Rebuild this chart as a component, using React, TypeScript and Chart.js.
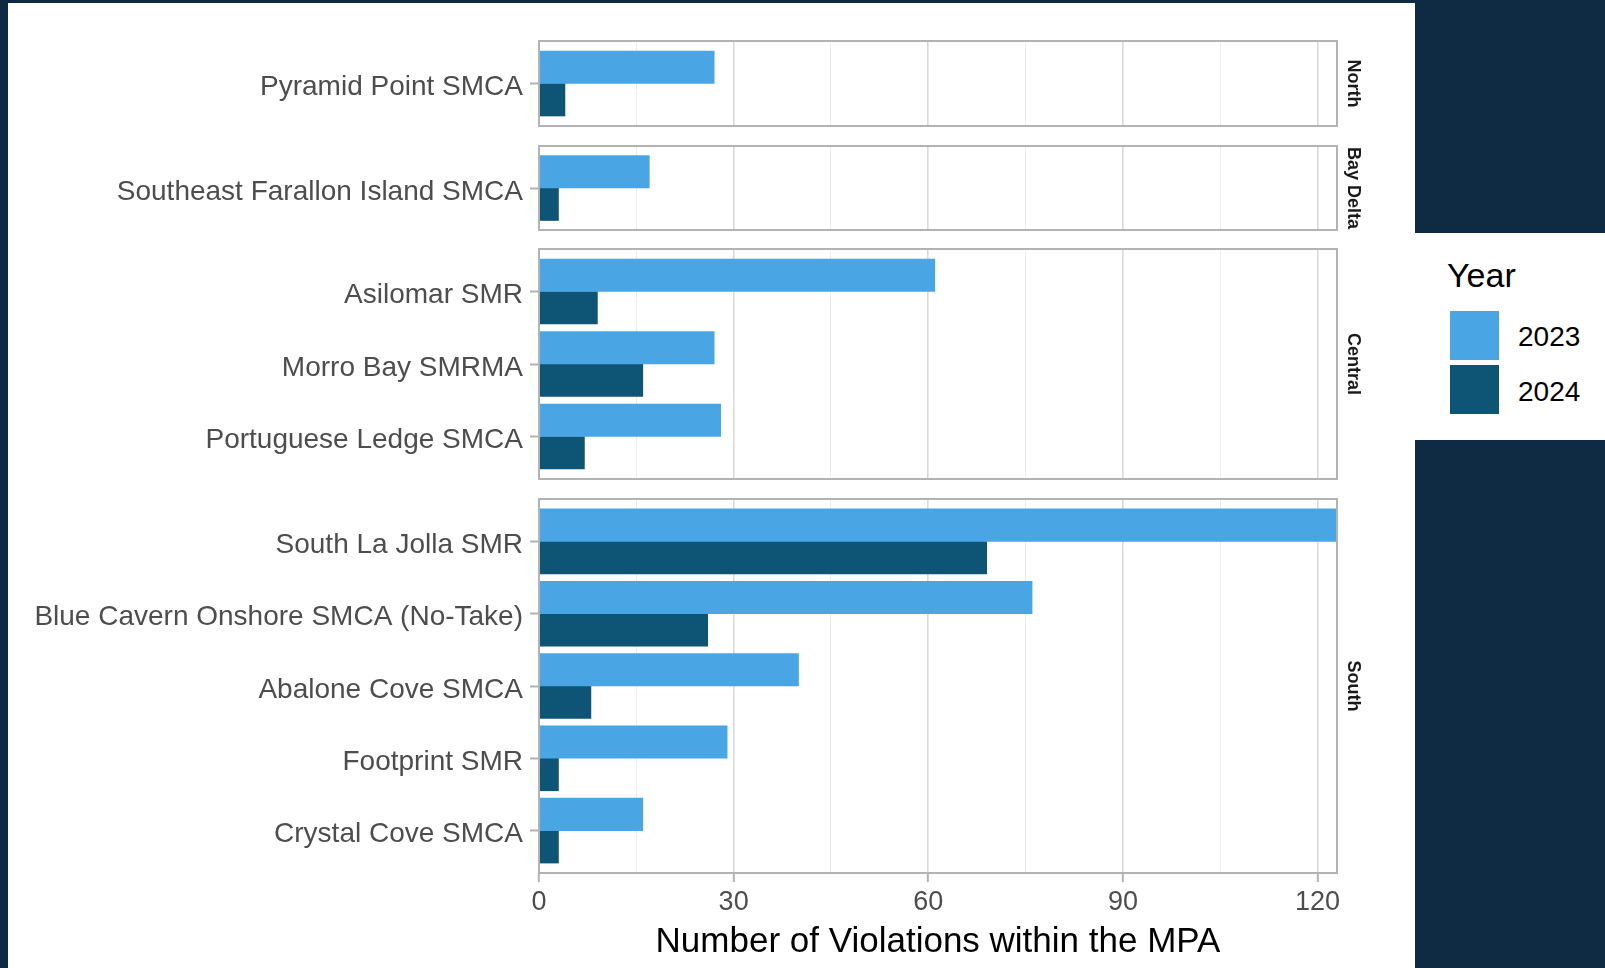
import React, { useEffect, useRef } from "react";
import { Chart, registerables } from "chart.js";

Chart.register(...registerables);

// ---------- data ----------
const northSites = ["Pyramid Point SMCA"];
const north2023 = [27];
const north2024 = [4];

const bayDeltaSites = ["Southeast Farallon Island SMCA"];
const bayDelta2023 = [17];
const bayDelta2024 = [3];

const centralSites = ["Asilomar SMR", "Morro Bay SMRMA", "Portuguese Ledge SMCA"];
const central2023 = [61, 27, 28];
const central2024 = [9, 16, 7];

const southSites = [
  "South La Jolla SMR",
  "Blue Cavern Onshore SMCA (No-Take)",
  "Abalone Cove SMCA",
  "Footprint SMR",
  "Crystal Cove SMCA",
];
const south2023 = [123, 76, 40, 29, 16];
const south2024 = [69, 26, 8, 3, 3];

const regionNames = ["North", "Bay Delta", "Central", "South"];
const yearLabels = ["2023", "2024"];
const xGridValues = [0, 15, 30, 45, 60, 75, 90, 105, 120];
const xTickLabels = [0, 30, 60, 90, 120];
const xMax = 123;
const xAxisTitle = "Number of Violations within the MPA";
const legendTitle = "Year";

// ---------- style ----------
const FONT = '"Liberation Sans", Arial, Helvetica, sans-serif';
const COLOR_2023 = "#49A5E3";
const COLOR_2024 = "#0E5475";
const BG_DARK = "#0F2A43";
const BORDER = "#b3b3b3";

const PANEL_BOXES = [
  { top: 41, bottom: 126 },
  { top: 146, bottom: 230 },
  { top: 249, bottom: 479 },
  { top: 499, bottom: 873 },
];
const CANVAS_W = 1415;
const PAGE_H = 968;
const PLOT_LEFT = 539;
const PLOT_RIGHT = 1337;
const EDGE = 0.087;
const PAD = 36;

const panelPlugin = {
  id: "panelFrame",
  afterDatasetsDraw(chart: any, _args: any, opts: any) {
    const { ctx, chartArea } = chart;
    ctx.save();
    ctx.strokeStyle = BORDER;
    ctx.lineWidth = 2;
    ctx.strokeRect(
      chartArea.left,
      chartArea.top,
      chartArea.right - chartArea.left,
      chartArea.bottom - chartArea.top
    );
    ctx.translate(chartArea.right + 16, (chartArea.top + chartArea.bottom) / 2);
    ctx.rotate(Math.PI / 2);
    ctx.font = `bold 18px ${FONT}`;
    ctx.fillStyle = "#1a1a1a";
    ctx.textAlign = "center";
    ctx.textBaseline = "middle";
    ctx.fillText(opts.text, 0, 0);
    ctx.restore();
  },
};

type PanelProps = {
  sites: string[];
  v2023: number[];
  v2024: number[];
  region: string;
  top: number;
  bottom: number;
  isLast: boolean;
};

function Panel({ sites, v2023, v2024, region, top, bottom, isLast }: PanelProps) {
  const ref = useRef<HTMLCanvasElement | null>(null);
  const canvasTop = top - PAD;
  const canvasH = isLast ? PAGE_H - canvasTop : bottom - top + 2 * PAD;

  useEffect(() => {
    if (!ref.current) return;
    const n = sites.length;
    const isMajor = (ctx: any) => ctx.tick && xTickLabels.includes(ctx.tick.value);
    const chart = new Chart(ref.current, {
      type: "bar",
      data: {
        datasets: [
          {
            label: yearLabels[0],
            data: v2023.map((v, i) => ({ x: v, y: i })),
            backgroundColor: COLOR_2023,
            borderWidth: 0,
            barThickness: 32.5,
          },
          {
            label: yearLabels[1],
            data: v2024.map((v, i) => ({ x: v, y: i })),
            backgroundColor: COLOR_2024,
            borderWidth: 0,
            barThickness: 32.5,
          },
        ],
      } as any,
      options: {
        indexAxis: "y",
        animation: false,
        responsive: false,
        maintainAspectRatio: false,
        events: [],
        layout: {
          padding: { top: PAD, bottom: isLast ? 0 : PAD, left: 0, right: CANVAS_W - PLOT_RIGHT },
        },
        plugins: {
          legend: { display: false },
          tooltip: { enabled: false },
          panelFrame: { text: region },
        } as any,
        scales: {
          x: {
            type: "linear",
            position: "bottom",
            min: 0,
            max: xMax,
            offset: false,
            afterBuildTicks: (s: any) => {
              s.ticks = xGridValues.map((v) => ({ value: v }));
            },
            afterFit: (s: any) => {
              s.height = isLast ? PAGE_H - PANEL_BOXES[3].bottom : 0;
            },
            ticks: {
              display: isLast,
              autoSkip: false,
              maxRotation: 0,
              padding: 4,
              color: "#4d4d4d",
              font: { family: FONT, size: 27 },
              callback: (v: any) => (xTickLabels.includes(Number(v)) ? String(v) : ""),
            },
            grid: {
              offset: false,
              drawOnChartArea: true,
              drawTicks: isLast,
              tickLength: 9,
              tickWidth: 2,
              color: (ctx: any) => (isMajor(ctx) ? "#dadada" : "#ececec"),
              lineWidth: (ctx: any) => (isMajor(ctx) ? 1.6 : 1),
              tickColor: (ctx: any) => (isMajor(ctx) ? BORDER : "rgba(0,0,0,0)"),
            },
            border: { display: false },
            title: {
              display: isLast,
              text: xAxisTitle,
              color: "#000000",
              font: { family: FONT, size: 35 },
              padding: { top: 0, bottom: 5 },
            },
          },
          y: {
            type: "linear",
            reverse: true,
            offset: false,
            min: -0.5 - EDGE,
            max: n - 0.5 + EDGE,
            afterBuildTicks: (s: any) => {
              s.ticks = sites.map((_, i) => ({ value: i }));
            },
            afterFit: (s: any) => {
              s.width = PLOT_LEFT;
            },
            ticks: {
              autoSkip: false,
              padding: 7,
              labelOffset: 4,
              color: "#4d4d4d",
              font: { family: FONT, size: 28 },
              callback: (v: any) => sites[Math.round(Number(v))] ?? "",
            },
            grid: {
              offset: false,
              drawOnChartArea: false,
              drawTicks: true,
              tickLength: 9,
              tickWidth: 2,
              tickColor: BORDER,
            },
            border: { display: false },
          },
        },
      } as any,
      plugins: [panelPlugin as any],
    });
    return () => chart.destroy();
  }, []);

  return (
    <canvas
      ref={ref}
      width={CANVAS_W}
      height={canvasH}
      style={{
        position: "absolute",
        left: 0,
        top: canvasTop,
        width: CANVAS_W,
        height: canvasH,
      }}
    />
  );
}

export default function App() {
  const groups = [
    { sites: northSites, v2023: north2023, v2024: north2024 },
    { sites: bayDeltaSites, v2023: bayDelta2023, v2024: bayDelta2024 },
    { sites: centralSites, v2023: central2023, v2024: central2024 },
    { sites: southSites, v2023: south2023, v2024: south2024 },
  ];
  return (
    <div
      style={{
        position: "absolute",
        left: 0,
        top: 0,
        width: 1605,
        height: PAGE_H,
        background: BG_DARK,
        overflow: "hidden",
        fontFamily: FONT,
      }}
    >
      <div
        style={{
          position: "absolute",
          left: 8,
          top: 3,
          width: CANVAS_W - 8,
          height: PAGE_H - 3,
          background: "#ffffff",
        }}
      />
      {groups.map((g, i) => (
        <Panel
          key={regionNames[i]}
          sites={g.sites}
          v2023={g.v2023}
          v2024={g.v2024}
          region={regionNames[i]}
          top={PANEL_BOXES[i].top}
          bottom={PANEL_BOXES[i].bottom}
          isLast={i === groups.length - 1}
        />
      ))}
      <div
        style={{
          position: "absolute",
          left: CANVAS_W,
          top: 233,
          width: 1605 - CANVAS_W,
          height: 207,
          background: "#ffffff",
        }}
      >
        <div
          style={{
            position: "absolute",
            left: 32,
            top: 25,
            fontSize: 34,
            lineHeight: "34px",
            color: "#000",
            whiteSpace: "nowrap",
          }}
        >
          {legendTitle}
        </div>
        {yearLabels.map((y, i) => (
          <React.Fragment key={y}>
            <div
              style={{
                position: "absolute",
                left: 35,
                top: 78 + i * 54,
                width: 49,
                height: 49,
                background: i === 0 ? COLOR_2023 : COLOR_2024,
              }}
            />
            <div
              style={{
                position: "absolute",
                left: 103,
                top: 90 + i * 55,
                fontSize: 28,
                lineHeight: "28px",
                color: "#000",
                whiteSpace: "nowrap",
              }}
            >
              {y}
            </div>
          </React.Fragment>
        ))}
      </div>
    </div>
  );
}
